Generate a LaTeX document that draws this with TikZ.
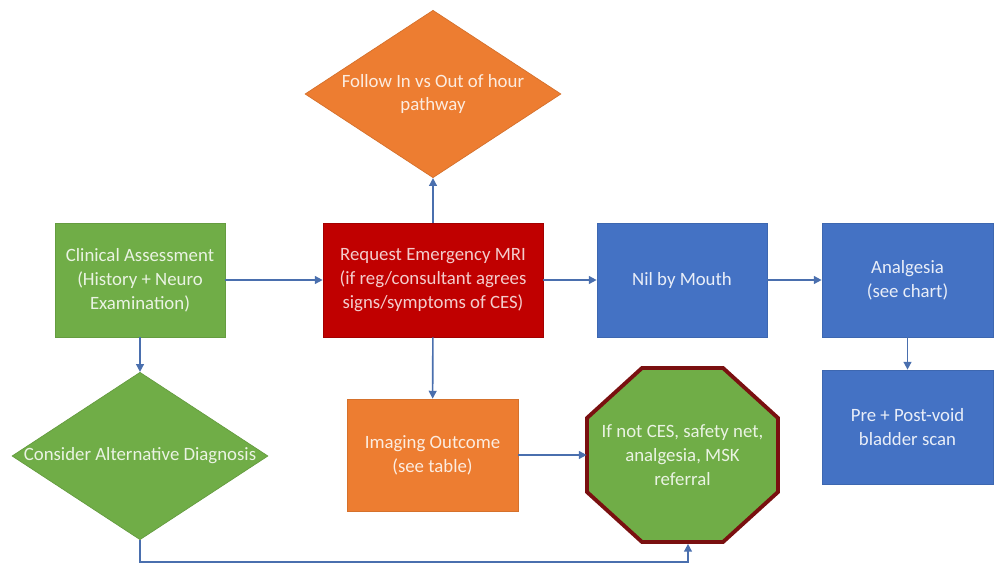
\documentclass[tikz,border=0pt]{standalone}
\usepackage{fontspec}
\setmainfont{Carlito}
\usetikzlibrary{shapes.geometric,arrows.meta}
\definecolor{cgreen}{HTML}{70AD47}
\definecolor{corange}{HTML}{ED7D31}
\definecolor{cblue}{HTML}{4472C4}
\definecolor{cred}{HTML}{C00000}
\definecolor{cdarkred}{HTML}{7A1010}
\definecolor{carrow}{HTML}{4A6FAE}
\begin{document}
\begin{tikzpicture}[x=0.02cm,y=-0.02cm,
  every node/.style={font=\fontsize{10.7}{13.6}\selectfont, align=center, inner sep=0pt},
  box/.style={rectangle, minimum width=3.4cm, minimum height=2.28cm},
  greenbox/.style={box, fill=cgreen, draw=cgreen!90!black, text=cgreen!15!white},
  bluebox/.style={box, fill=cblue, draw=cblue!90!black, text=cblue!12!white},
  orangebox/.style={box, fill=corange, draw=corange!90!black, text=corange!15!white},
  redbox/.style={box, fill=cred, draw=cred!85!black, text=cred!20!white},
  dia/.style={diamond, minimum width=5.12cm, minimum height=3.35cm},
  conn/.style={draw=carrow, line width=0.9pt, -{Triangle[length=4.5pt,width=4.5pt]}}
]
\useasboundingbox (0,0) rectangle (1000,571);

\node[greenbox] (clin) at (140,280) {Clinical Assessment\\(History + Neuro\\Examination)};
\node[redbox, minimum width=4.4cm] (mri) at (433,280) {Request Emergency MRI\\(if reg/consultant agrees\\signs/symptoms of CES)};
\node[bluebox] (nbm) at (682,280) {Nil by Mouth};
\node[bluebox, minimum width=3.42cm] (anal) at (907.5,280) {Analgesia\\(see chart)};
\node[bluebox, minimum width=3.42cm] (blad) at (907.5,427) {Pre + Post-void\\bladder scan};
\node[orangebox, minimum width=3.42cm, minimum height=2.24cm] (img) at (432.5,455) {Imaging Outcome\\(see table)};

\node[dia, fill=corange, draw=corange!90!black,
  label={[text=corange!15!white, font=\fontsize{10.7}{13.6}\selectfont, align=center]center:Follow In vs Out of hour\\pathway}] (follow) at (433,94) {};
\node[dia, fill=cgreen, draw=cgreen!90!black,
  label={[text=cgreen!15!white, font=\fontsize{10.7}{13.6}\selectfont]center:Consider Alternative Diagnosis}] (alt) at (140,456) {};

% octagon
\coordinate (octc) at (682.5,455);
\draw[fill=cgreen, draw=cdarkred, line width=2.2pt, line join=miter]
  ([shift={(-40.5,-87)}]octc) -- ([shift={(40.5,-87)}]octc) -- ([shift={(95.5,-37)}]octc)
  -- ([shift={(95.5,37)}]octc) -- ([shift={(40.5,87)}]octc) -- ([shift={(-40.5,87)}]octc)
  -- ([shift={(-95.5,37)}]octc) -- ([shift={(-95.5,-37)}]octc) -- cycle;
\node[rectangle, minimum width=3.82cm, minimum height=3.48cm, text=cgreen!15!white]
  (oct) at (octc) {If not CES, safety net,\\analgesia, MSK\\referral};

\coordinate (b1) at (140,562);
\coordinate (b2) at (688,562);

\draw[conn] (clin) -- (mri);
\draw[conn] (mri) -- (nbm);
\draw[conn] (nbm) -- (anal);
\draw[conn] (anal) -- (blad);
\draw[conn] (mri) -- (follow);
\draw[conn] (mri) -- (img);
\draw[conn] (clin) -- (alt);
\draw[conn] (img) -- (oct);
\draw[conn] (alt.south) -- (b1) -- (b2) -- ([yshift=-0.03cm]b2 |- oct.south);
\end{tikzpicture}
\end{document}
